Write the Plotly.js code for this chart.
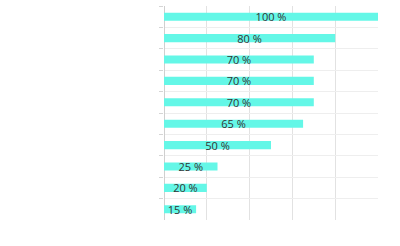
<!DOCTYPE html>
<html><head><meta charset="utf-8">
<script src="https://cdn.plot.ly/plotly-3.0.1.min.js"></script>
<style>html,body{margin:0;padding:0;background:#fff}#c{width:400px;height:246px}</style>
</head><body><div id="c"></div>
<script>
const categories = ["A","B","C","D","E","F","G","H","I","J"];
const values = [100, 80, 70, 70, 70, 65, 50, 25, 20, 15];
const xTicks = [0, 20, 40, 60, 80, 100];

Plotly.newPlot('c', [{
  type: 'bar', orientation: 'h',
  y: categories, x: values,
  width: 0.38,
  marker: {color: '#64F7E7'},
  texttemplate: '%{x} %',
  textposition: 'inside',
  insidetextanchor: 'middle',
  constraintext: 'none',
  textfont: {family: 'Open Sans', size: 11, color: '#333'},
  hoverinfo: 'none'
}], {
  width: 400, height: 246,
  margin: {l: 164, r: 22, t: 6, b: 26},
  paper_bgcolor: '#fff', plot_bgcolor: '#fff',
  showlegend: false,
  bargap: 0.6,
  xaxis: {range: [0, 100], tickvals: xTicks, showticklabels: false,
          showgrid: true, gridcolor: '#e2e2e2', gridwidth: 1,
          zeroline: true, zerolinecolor: '#cfcfcf', zerolinewidth: 1,
          showline: false, ticks: ''},
  yaxis: {type: 'category', autorange: 'reversed', tickson: 'boundaries',
          showticklabels: false, ticks: 'outside', ticklen: 4, tickcolor: '#d5d5d5',
          showgrid: true, gridcolor: '#eeeeee', gridwidth: 1, showline: false}
}, {staticPlot: true});
</script></body></html>
